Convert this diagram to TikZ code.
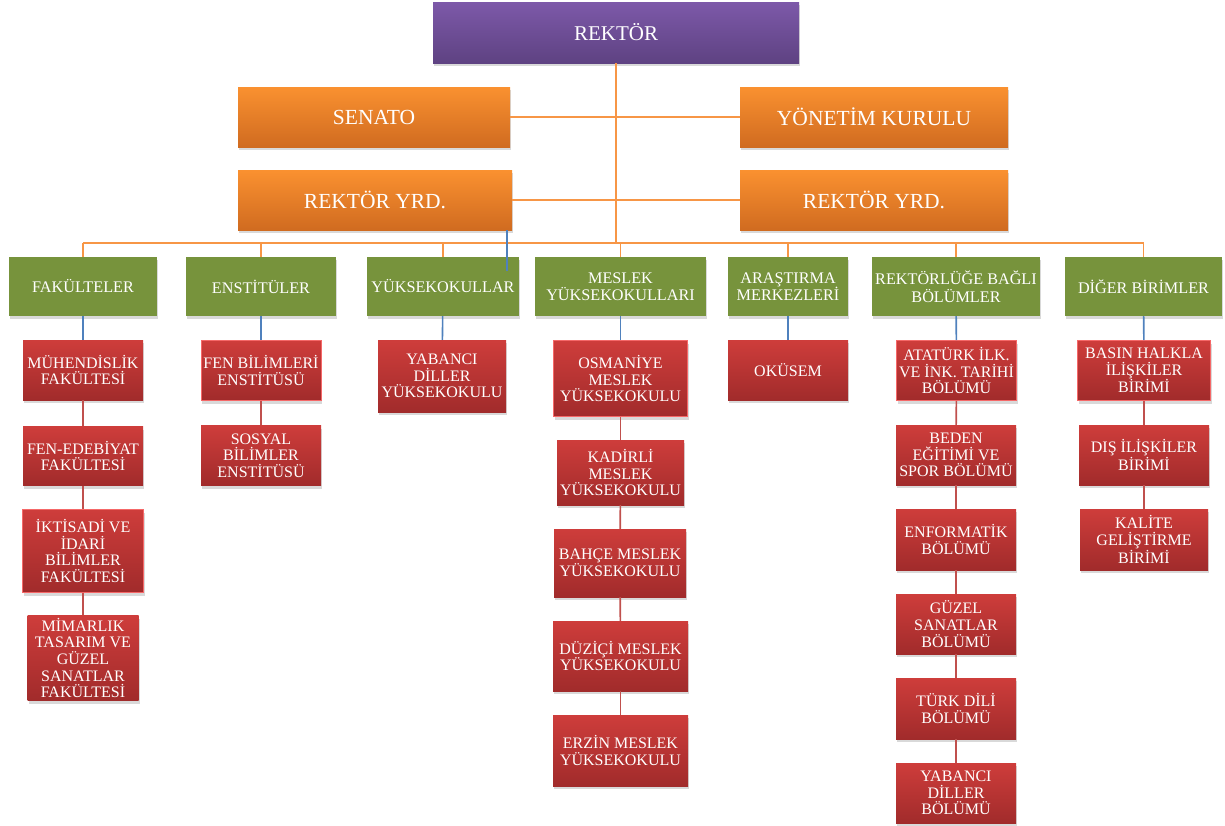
\documentclass[tikz,border=0pt]{standalone}
\usepackage{fontspec}
\setmainfont{Liberation Serif}
\usepackage{tikz}
\usetikzlibrary{shadows}

\definecolor{purpTop}{HTML}{7D59A9}
\definecolor{purpBot}{HTML}{5E4282}
\definecolor{orTop}{HTML}{FA9130}
\definecolor{orBot}{HTML}{D06B20}
\definecolor{grn}{HTML}{77933C}
\definecolor{redTop}{HTML}{CE3D3B}
\definecolor{redBot}{HTML}{A12B2B}
\definecolor{orLine}{HTML}{F79646}
\definecolor{blLine}{HTML}{4F81BD}
\definecolor{rdLine}{HTML}{C0504D}

\tikzset{
  shad/.style={drop shadow={opacity=0.3, shadow xshift=1pt, shadow yshift=-3pt}},
  topbox/.style={shad, top color=purpTop, bottom color=purpBot, text=white,
    font=\fontsize{21}{25}\selectfont},
  orbox/.style={shad, top color=orTop, bottom color=orBot, text=white,
    font=\fontsize{21.5}{25}\selectfont},
  grbox/.style={shad, fill=grn, text=white, align=center, inner sep=1pt,
    font=\fontsize{16.2}{17.5}\selectfont},
  rdbox/.style={shad, top color=redTop, bottom color=redBot, text=white, align=center, inner sep=0pt,
    font=\fontsize{16}{16.6}\selectfont},
  rdboxb/.style={rdbox, draw=red!55!white!80!redTop, line width=0.8pt},
  orln/.style={orLine, line width=1.6pt},
  blln/.style={blLine, line width=1.6pt},
  rdln/.style={rdLine, line width=1.6pt},
}

\begin{document}
\begin{tikzpicture}[x=1pt,y=-1pt]
\useasboundingbox (0,0) rectangle (1225,825);

% top levels
\node[topbox, minimum width=366, minimum height=61] (rektor) at (616,32.5) {REKTÖR};
\node[orbox, minimum width=272, minimum height=60] (senato) at (374,117) {SENATO};
\node[orbox, minimum width=268, minimum height=60] (yonetim) at (874,117) {YÖNETİM KURULU};
\node[orbox, minimum width=274, minimum height=60] (yrdL) at (375,200) {REKTÖR YRD.};
\node[orbox, minimum width=268, minimum height=60] (yrdR) at (874,200) {REKTÖR YRD.};
\coordinate (bus) at (616,243);

% units
\node[grbox, minimum width=148, minimum height=59] (fak) at (83,286.5) {FAKÜLTELER};
\node[grbox, minimum width=150, minimum height=59] (enst) at (261,286.5) {ENSTİTÜLER};
\node[grbox, minimum width=152, minimum height=59] (yo) at (443,286.5) {YÜKSEKOKULLAR};
\node[grbox, minimum width=171, minimum height=59] (myo) at (620.5,286.5) {MESLEK\\YÜKSEKOKULLARI};
\node[grbox, minimum width=120, minimum height=59] (arast) at (788,286.5) {ARAŞTIRMA\\MERKEZLERİ};
\node[grbox, minimum width=168, minimum height=59] (rbb) at (956,286.5) {REKTÖRLÜĞE BAĞLI\\BÖLÜMLER};
\node[grbox, minimum width=157, minimum height=59] (diger) at (1143.5,286.5) {DİĞER BİRİMLER};

% fakulteler
\node[rdbox, minimum width=120, minimum height=60] (muh) at (83,370) {MÜHENDİSLİK\\FAKÜLTESİ};
\node[rdbox, minimum width=120, minimum height=59] (fenede) at (83,456) {FEN-EDEBİYAT\\FAKÜLTESİ};
\node[rdboxb, minimum width=121, minimum height=83] (iktisadi) at (83,551) {İKTİSADİ VE\\İDARİ\\BİLİMLER\\FAKÜLTESİ};
\node[rdbox, minimum width=111, minimum height=85] (mimar) at (83,658) {MİMARLIK\\TASARIM VE\\GÜZEL\\SANATLAR\\FAKÜLTESİ};
% enstituler
\node[rdboxb, minimum width=120, minimum height=60] (fenbil) at (261,370.5) {FEN BİLİMLERİ\\ENSTİTÜSÜ};
\node[rdbox, minimum width=120, minimum height=60] (sosyal) at (261,455.5) {SOSYAL\\BİLİMLER\\ENSTİTÜSÜ};
% yuksekokullar
\node[rdbox, minimum width=128, minimum height=72] (ydyo) at (442,376) {YABANCI\\DİLLER\\YÜKSEKOKULU};
% meslek yuksekokullari
\node[rdboxb, minimum width=134, minimum height=76] (osm) at (620.5,378.5) {OSMANİYE\\MESLEK\\YÜKSEKOKULU};
\node[rdbox, minimum width=127, minimum height=65] (kad) at (620.5,472.5) {KADİRLİ\\MESLEK\\YÜKSEKOKULU};
\node[rdbox, minimum width=132, minimum height=68] (bahce) at (620,563) {BAHÇE MESLEK\\YÜKSEKOKULU};
\node[rdbox, minimum width=135, minimum height=70] (duzici) at (620.5,656) {DÜZİÇİ MESLEK\\YÜKSEKOKULU};
\node[rdbox, minimum width=135, minimum height=71] (erzin) at (620.5,750.5) {ERZİN MESLEK\\YÜKSEKOKULU};
% arastirma
\node[rdbox, minimum width=120, minimum height=60] (okusem) at (788,370) {OKÜSEM};
% bolumler
\node[rdboxb, minimum width=120, minimum height=60] (ataturk) at (956.5,370.5) {ATATÜRK İLK.\\VE İNK. TARİHİ\\BÖLÜMÜ};
\node[rdbox, minimum width=120, minimum height=60] (beden) at (956,455) {BEDEN\\EĞİTİMİ VE\\SPOR BÖLÜMÜ};
\node[rdbox, minimum width=120, minimum height=61] (enf) at (956,539.5) {ENFORMATİK\\BÖLÜMÜ};
\node[rdbox, minimum width=120, minimum height=60] (guzel) at (956,624) {GÜZEL\\SANATLAR\\BÖLÜMÜ};
\node[rdbox, minimum width=120, minimum height=61] (turk) at (956,708.5) {TÜRK DİLİ\\BÖLÜMÜ};
\node[rdbox, minimum width=120, minimum height=60] (ydbol) at (956,793) {YABANCI\\DİLLER\\BÖLÜMÜ};
% diger
\node[rdboxb, minimum width=133, minimum height=60] (basin) at (1144,370.5) {BASIN HALKLA\\İLİŞKİLER\\BİRİMİ};
\node[rdbox, minimum width=130, minimum height=60] (dis) at (1144,455) {DIŞ İLİŞKİLER\\BİRİMİ};
\node[rdbox, minimum width=128, minimum height=61] (kalite) at (1144,539.5) {KALİTE\\GELİŞTİRME\\BİRİMİ};

% connectors
\draw[orln] (rektor) -- (bus);
\draw[orln] (senato) -- (yonetim);
\draw[orln] (yrdL) -- (yrdR);
\draw[orln] (fak.north |- bus) -- (diger.north |- bus);
\foreach \u in {fak,enst,yo,myo,arast,rbb,diger}
  \draw[orln] (\u.north |- bus) -- (\u.north);
\coordinate (stray) at (507,271);
\draw[blln] (stray |- yrdL.south) -- (stray);
\foreach \a/\b in {fak/muh,enst/fenbil,yo/ydyo,myo/osm,arast/okusem,rbb/ataturk,diger/basin}
  \draw[blln] (\a) -- (\b);
\foreach \a/\b in {muh/fenede,fenede/iktisadi,iktisadi/mimar,fenbil/sosyal,osm/kad,kad/bahce,bahce/duzici,duzici/erzin,
  ataturk/beden,beden/enf,enf/guzel,guzel/turk,turk/ydbol,basin/dis,dis/kalite}
  \draw[rdln] (\a) -- (\b);
\end{tikzpicture}
\end{document}
